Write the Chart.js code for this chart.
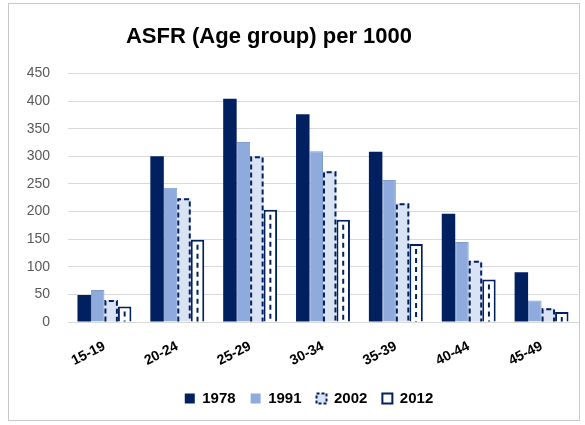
<!DOCTYPE html>
<html>
<head>
<meta charset="utf-8">
<script src="https://cdn.jsdelivr.net/npm/chart.js@4/dist/chart.umd.min.js"></script>
<style>
  html, body { margin: 0; padding: 0; background: #fff; }
  #wrap { width: 585px; height: 425px; }
</style>
</head>
<body>
<div id="wrap"><canvas id="asfrChart" width="585" height="425"></canvas></div>
<script>
const ageGroups = ['15-19', '20-24', '25-29', '30-34', '35-39', '40-44', '45-49'];
const asfr1978 = [49, 300, 404, 376, 308, 196, 90];
const asfr1991 = [58, 243, 326, 309, 257, 145, 39];
const asfr2002 = [40, 224, 300, 273, 215, 111, 25];
const asfr2012 = [28, 149, 203, 185, 141, 77, 18];

const navy = '#002060';

// border of the chart box, title/legend nudge, Excel style dashed outlines
const excelLook = {
  id: 'excelLook',
  afterLayout(chart) {
    chart.titleBlock.right -= 40;
    chart.legend.left += 20;
    chart.legend.right += 20;
  },
  beforeDraw(chart) {
    const ctx = chart.ctx;
    ctx.save();
    ctx.strokeStyle = '#c8c8c8';
    ctx.lineWidth = 1;
    ctx.strokeRect(8.5, 3.5, 571, 417);
    ctx.restore();
  },
  afterDatasetsDraw(chart) {
    const ctx = chart.ctx;
    ctx.save();
    ctx.strokeStyle = navy;
    ctx.lineWidth = 2;
    chart.getDatasetMeta(2).data.forEach(bar => {
      const l = bar.x - bar.width / 2 + 1, r = bar.x + bar.width / 2 - 1;
      ctx.setLineDash([5, 3]);
      ctx.beginPath();
      ctx.moveTo(l, bar.base);
      ctx.lineTo(l, bar.y + 1);
      ctx.lineTo(r, bar.y + 1);
      ctx.lineTo(r, bar.base);
      ctx.stroke();
    });
    chart.getDatasetMeta(3).data.forEach(bar => {
      ctx.setLineDash([5, 4]);
      ctx.beginPath();
      ctx.moveTo(bar.x, bar.y + 5);
      ctx.lineTo(bar.x, bar.base);
      ctx.stroke();
    });
    ctx.restore();
  }
};

const ctx = document.getElementById('asfrChart');
new Chart(ctx, {
  type: 'bar',
  data: {
    labels: ageGroups,
    datasets: [
      { label: '1978', data: asfr1978, backgroundColor: navy, borderWidth: 0 },
      { label: '1991', data: asfr1991, backgroundColor: '#8faadc', borderColor: '#7f9bd0', borderWidth: 1 },
      { label: '2002', data: asfr2002, backgroundColor: '#dae3f3', borderWidth: 0 },
      { label: '2012', data: asfr2012, backgroundColor: '#ffffff', borderColor: navy, borderWidth: 2 }
    ]
  },
  options: {
    responsive: false,
    animation: false,
    datasets: { bar: { barPercentage: 1.0, categoryPercentage: 0.74 } },
    layout: { padding: { left: 0, right: 7, top: 0, bottom: 9 } },
    plugins: {
      title: {
        display: true,
        text: 'ASFR (Age group) per 1000',
        color: '#000',
        font: { family: 'Liberation Sans', size: 22, weight: 'bold' },
        padding: { top: 24, bottom: 23 }
      },
      legend: {
        position: 'bottom',
        labels: {
          color: '#000',
          boxWidth: 10,
          boxHeight: 10,
          padding: 15,
          font: { family: 'Liberation Sans', size: 15, weight: 'bold' },
          generateLabels(chart) {
            const items = Chart.defaults.plugins.legend.labels.generateLabels(chart);
            items[0].lineWidth = 0;
            items[1].lineWidth = 0;
            items[2].strokeStyle = navy;
            items[2].lineWidth = 2;
            items[2].lineDash = [3, 2];
            items[3].strokeStyle = navy;
            items[3].lineWidth = 2;
            return items;
          }
        }
      },
      tooltip: { enabled: false }
    },
    scales: {
      x: {
        grid: { display: false },
        border: { color: '#d9d9d9' },
        ticks: {
          color: '#000',
          maxRotation: 27,
          minRotation: 27,
          padding: 8,
          font: { family: 'Liberation Sans', size: 14, weight: 'bold' }
        },
        afterFit(scale) { scale.height = 54; }
      },
      y: {
        min: 0,
        max: 450,
        ticks: {
          stepSize: 50,
          color: '#595959',
          padding: 18,
          font: { family: 'Liberation Sans', size: 14 }
        },
        grid: { color: '#d9d9d9', drawTicks: false },
        border: { display: false },
        afterFit(scale) { scale.width = 68; }
      }
    }
  },
  plugins: [excelLook]
});
</script>
</body>
</html>
